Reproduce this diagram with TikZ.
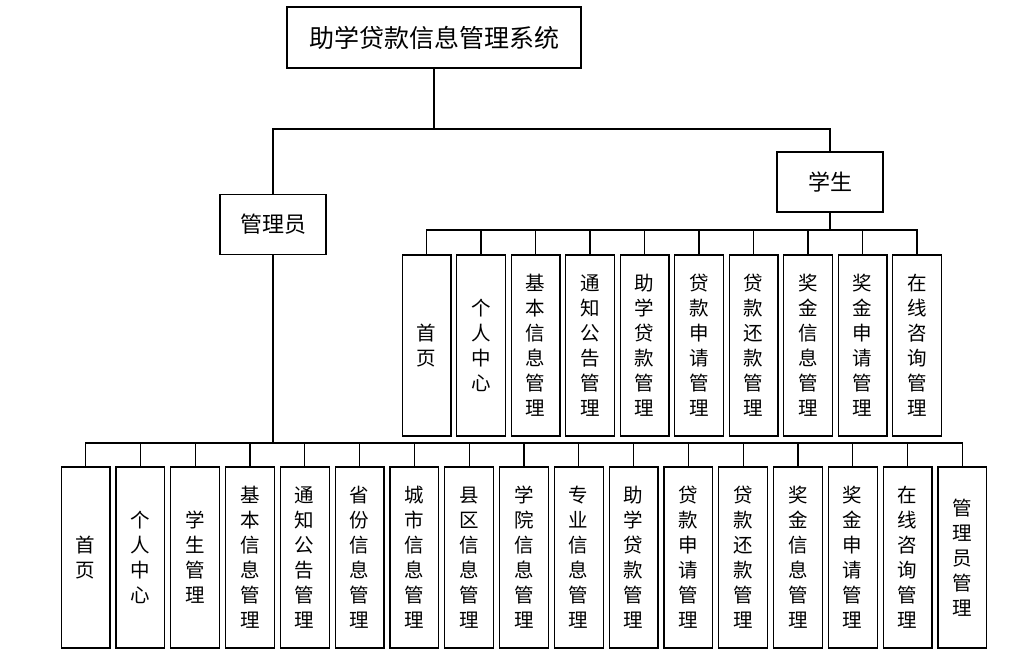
\documentclass[tikz,border=0pt]{standalone}
\usepackage{fontspec}
\newfontfamily\cjk{Noto Sans CJK SC}
\usepackage{tikz}
\usetikzlibrary{positioning}

\begin{document}
\begin{tikzpicture}[
        x=1pt, y=-1pt,
        node distance = 4.8pt,
        top/.style   = {draw, line width=1.2pt, inner sep=0pt, minimum width=294pt, minimum height=61pt, font=\cjk\fontsize{25}{30}\selectfont},
        role/.style  = {draw, line width=1.2pt, inner sep=0pt, minimum width=106pt, minimum height=60pt, font=\cjk\fontsize{22}{26}\selectfont},
        leaf/.style  = {draw, line width=1.2pt, inner sep=0pt, minimum width=48.8pt, minimum height=181pt, align=center, font=\cjk\fontsize{19.5}{25}\selectfont},
        link/.style  = {line width=1.2pt},
        stem/.style  = {line width=2.2pt},
    ]
        \useasboundingbox (0,0) rectangle (1013,662);

        \node[top]  (sys) at (434,37.5) {助学贷款信息管理系统};
        \node[role] (adm) at (273,224.5) {管理员};
        \node[role] (stu) at (830,182) {学生};

        \coordinate (rootbus) at (434,129);
        \coordinate (admbus)  at (273,443);
        \coordinate (stubus)  at (830,230);

        \draw[link] (sys.south) -- (rootbus);
        \draw[link] (adm.north) |- (rootbus);
        \draw[link] (stu.north) |- (rootbus);

        % admin functions
        \node[leaf] (a1) at (85.5,557.5) {首\\页};
        \node[leaf, right=of a1]  (a2)  {个\\人\\中\\心};
        \node[leaf, right=of a2]  (a3)  {学\\生\\管\\理};
        \node[leaf, right=of a3]  (a4)  {基\\本\\信\\息\\管\\理};
        \node[leaf, right=of a4]  (a5)  {通\\知\\公\\告\\管\\理};
        \node[leaf, right=of a5]  (a6)  {省\\份\\信\\息\\管\\理};
        \node[leaf, right=of a6]  (a7)  {城\\市\\信\\息\\管\\理};
        \node[leaf, right=of a7]  (a8)  {县\\区\\信\\息\\管\\理};
        \node[leaf, right=of a8]  (a9)  {学\\院\\信\\息\\管\\理};
        \node[leaf, right=of a9]  (a10) {专\\业\\信\\息\\管\\理};
        \node[leaf, right=of a10] (a11) {助\\学\\贷\\款\\管\\理};
        \node[leaf, right=of a11] (a12) {贷\\款\\申\\请\\管\\理};
        \node[leaf, right=of a12] (a13) {贷\\款\\还\\款\\管\\理};
        \node[leaf, right=of a13] (a14) {奖\\金\\信\\息\\管\\理};
        \node[leaf, right=of a14] (a15) {奖\\金\\申\\请\\管\\理};
        \node[leaf, right=of a15] (a16) {在\\线\\咨\\询\\管\\理};
        \node[leaf, right=of a16] (a17) {管\\理\\员\\管\\理};

        \draw[stem] (adm.south) -- (admbus);
        \draw[link] (a1.north)  |- (admbus);
        \draw[link] (a2.north)  |- (admbus);
        \draw[link] (a3.north)  |- (admbus);
        \draw[link] (a4.north)  |- (admbus);
        \draw[link] (a5.north)  |- (admbus);
        \draw[link] (a6.north)  |- (admbus);
        \draw[link] (a7.north)  |- (admbus);
        \draw[link] (a8.north)  |- (admbus);
        \draw[link] (a9.north)  |- (admbus);
        \draw[link] (a10.north) |- (admbus);
        \draw[link] (a11.north) |- (admbus);
        \draw[link] (a12.north) |- (admbus);
        \draw[link] (a13.north) |- (admbus);
        \draw[link] (a14.north) |- (admbus);
        \draw[link] (a15.north) |- (admbus);
        \draw[link] (a16.north) |- (admbus);
        \draw[link] (a17.north) |- (admbus);

        % student functions
        \begin{scope}[node distance = 4.5pt]
        \node[leaf] (s1) at (426.5,345.5) {首\\页};
        \node[leaf, right=of s1] (s2)  {个\\人\\中\\心};
        \node[leaf, right=of s2] (s3)  {基\\本\\信\\息\\管\\理};
        \node[leaf, right=of s3] (s4)  {通\\知\\公\\告\\管\\理};
        \node[leaf, right=of s4] (s5)  {助\\学\\贷\\款\\管\\理};
        \node[leaf, right=of s5] (s6)  {贷\\款\\申\\请\\管\\理};
        \node[leaf, right=of s6] (s7)  {贷\\款\\还\\款\\管\\理};
        \node[leaf, right=of s7] (s8)  {奖\\金\\信\\息\\管\\理};
        \node[leaf, right=of s8] (s9)  {奖\\金\\申\\请\\管\\理};
        \node[leaf, right=of s9] (s10) {在\\线\\咨\\询\\管\\理};
        \end{scope}

        \draw[stem] (stu.south) -- (stubus);
        \draw[link] (s1.north)  |- (stubus);
        \draw[link] (s2.north)  |- (stubus);
        \draw[link] (s3.north)  |- (stubus);
        \draw[link] (s4.north)  |- (stubus);
        \draw[link] (s5.north)  |- (stubus);
        \draw[link] (s6.north)  |- (stubus);
        \draw[link] (s7.north)  |- (stubus);
        \draw[link] (s8.north)  |- (stubus);
        \draw[link] (s9.north)  |- (stubus);
        \draw[link] (s10.north) |- (stubus);
    \end{tikzpicture}
\end{document}
